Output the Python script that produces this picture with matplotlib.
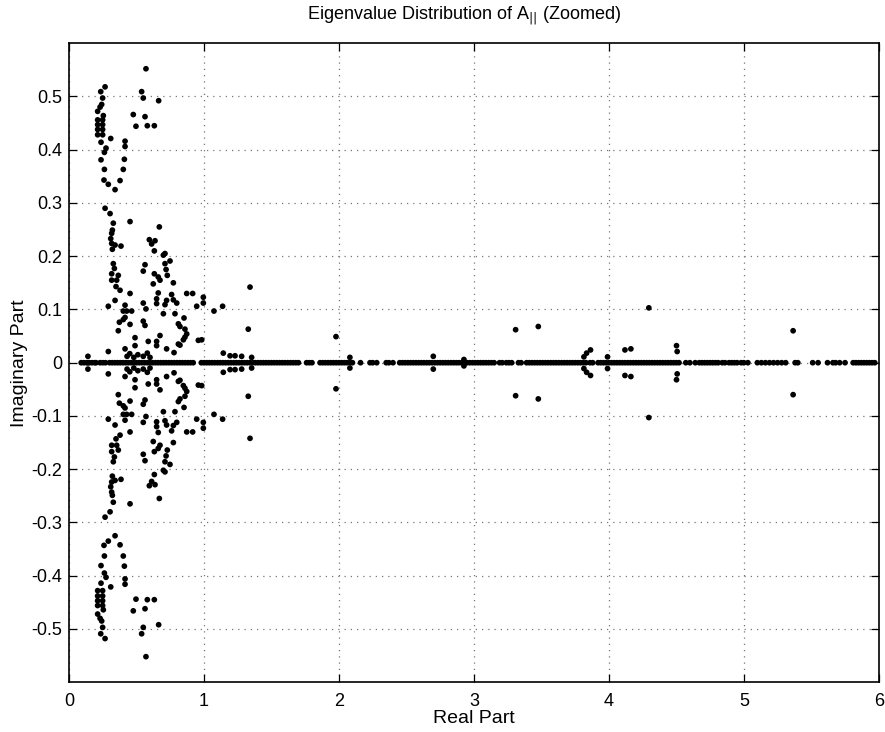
import matplotlib
matplotlib.use("Agg")
import matplotlib.pyplot as plt
import numpy as np

plt.rcParams['font.family'] = ['Liberation Sans', 'DejaVu Sans']

# Complex eigenvalues (upper half-plane); conjugates are mirrored below
cplx_re = [0.267, 0.235, 0.249, 0.538, 0.550, 0.664, 0.242, 0.230, 0.212, 0.254,
           0.476, 0.563, 0.212, 0.249, 0.212, 0.249, 0.496, 0.580, 0.632, 0.212,
           0.249, 0.212, 0.249, 0.237, 0.309, 0.415, 0.415, 0.274, 0.262, 0.237,
           0.410, 0.262, 0.402, 0.259, 0.291, 0.378, 0.341, 0.267, 0.304, 0.328,
           0.452, 0.669, 0.570,
           0.321, 0.316, 0.309, 0.316, 0.341, 0.385, 0.321, 0.595, 0.637, 0.612,
           0.632, 0.711, 0.699, 0.748, 0.711, 0.328, 0.563, 0.336, 0.550, 0.719,
           0.316, 0.365, 0.632, 0.661, 0.728, 0.316, 0.353, 0.624, 0.674, 0.773,
           0.348, 0.378, 0.452, 1.341, 0.661, 0.760, 0.872, 0.916, 0.995, 0.341,
           0.649, 0.723, 0.773, 0.649, 0.711, 0.798, 0.550, 0.291, 0.415, 0.570,
           0.946, 0.995, 1.074, 1.138, 0.402, 0.427, 0.464, 0.699, 0.785, 0.415,
           0.402, 0.852, 0.373, 0.550, 0.452, 0.563, 0.810, 0.822, 0.365, 0.859,
           1.328, 0.872, 0.674, 0.859, 0.847, 0.489, 0.587, 0.649, 0.810, 0.822,
           0.958, 0.983, 0.649, 0.723, 0.778, 0.415, 0.291, 0.489,
           0.140, 0.430, 0.450, 0.480, 0.510, 0.550, 0.580, 0.600,
           1.143, 1.193, 1.230, 1.279, 1.353, 1.978, 2.081, 2.699, 2.926,
           3.309, 3.477, 3.815, 3.835, 3.864, 3.990, 4.119, 4.163, 4.296,
           4.501, 4.506, 5.365]
cplx_im = [0.518, 0.509, 0.497, 0.509, 0.497, 0.492, 0.485, 0.480, 0.472, 0.464,
           0.466, 0.462, 0.456, 0.456, 0.447, 0.447, 0.444, 0.445, 0.445, 0.438,
           0.438, 0.428, 0.428, 0.414, 0.421, 0.416, 0.406, 0.403, 0.395, 0.381,
           0.382, 0.363, 0.363, 0.343, 0.335, 0.342, 0.325, 0.290, 0.280, 0.262,
           0.265, 0.255, 0.552,
           0.249, 0.243, 0.233, 0.224, 0.221, 0.219, 0.213, 0.231, 0.229, 0.223,
           0.210, 0.205, 0.202, 0.191, 0.186, 0.186, 0.184, 0.177, 0.172, 0.175,
           0.167, 0.164, 0.167, 0.161, 0.164, 0.155, 0.155, 0.148, 0.155, 0.150,
           0.143, 0.136, 0.130, 0.142, 0.131, 0.128, 0.130, 0.130, 0.123, 0.117,
           0.120, 0.117, 0.118, 0.111, 0.109, 0.112, 0.112, 0.106, 0.108, 0.101,
           0.106, 0.112, 0.097, 0.106, 0.097, 0.097, 0.097, 0.092, 0.092, 0.085,
           0.081, 0.084, 0.076, 0.078, 0.072, 0.070, 0.073, 0.068, 0.060, 0.063,
           0.063, 0.054, 0.051, 0.048, 0.043, 0.047, 0.040, 0.040, 0.035, 0.033,
           0.042, 0.043, 0.032, 0.026, 0.019, 0.026, 0.021, 0.032,
           0.012, 0.012, 0.017, 0.010, 0.015, 0.012, 0.018, 0.010,
           0.018, 0.013, 0.013, 0.012, 0.010, 0.049, 0.010, 0.012, 0.006,
           0.062, 0.068, 0.011, 0.018, 0.024, 0.011, 0.024, 0.026, 0.103,
           0.032, 0.021, 0.060]

# Real eigenvalues
real_vals = [0.09, 0.11, 0.13, 0.14, 0.15, 0.17, 0.19, 0.20,
             0.23, 0.25, 0.27, 0.30, 0.32, 0.34, 0.36,
             0.38, 0.40, 0.42, 0.44, 0.46, 0.48, 0.50, 0.52, 0.54, 0.56, 0.58,
             0.60, 0.62, 0.64, 0.66, 0.68, 0.70, 0.72, 0.74, 0.76, 0.78, 0.80,
             0.82, 0.84, 0.86, 0.88, 0.90, 0.92,
             0.98, 1.00, 1.02, 1.04, 1.06, 1.08, 1.10, 1.12, 1.14, 1.16, 1.18,
             1.20, 1.22, 1.24, 1.26, 1.28, 1.30, 1.32, 1.34, 1.36, 1.38, 1.40,
             1.42, 1.44, 1.46, 1.48, 1.50, 1.52, 1.54, 1.56, 1.58, 1.60, 1.62,
             1.64, 1.66, 1.68, 1.70,
             1.76, 1.78, 1.80,
             1.86, 1.88, 1.90, 1.92, 1.94, 1.96, 1.98, 2.00, 2.02, 2.04, 2.06,
             2.08, 2.10,
             2.16, 2.23, 2.25, 2.28, 2.35, 2.37, 2.40,
             2.45, 2.47, 2.49, 2.51, 2.53, 2.55, 2.57, 2.59, 2.61, 2.63, 2.65,
             2.67, 2.69, 2.71, 2.73, 2.75, 2.77, 2.79, 2.81, 2.83, 2.85, 2.87,
             2.89, 2.91, 2.93, 2.95, 2.97, 2.99, 3.01, 3.03, 3.05, 3.07, 3.09,
             3.11, 3.13, 3.15,
             3.19, 3.21, 3.24, 3.26, 3.28, 3.33, 3.35, 3.39, 3.41, 3.43,
             3.45, 3.47, 3.49, 3.51, 3.53, 3.55, 3.57, 3.59, 3.61, 3.63, 3.65,
             3.67, 3.69, 3.71, 3.73, 3.75, 3.77, 3.79,
             3.81, 3.83, 3.86, 3.88, 3.92, 3.94, 3.96,
             3.98, 4.00, 4.02, 4.04, 4.06, 4.08, 4.10, 4.12, 4.14, 4.16, 4.18,
             4.20, 4.22, 4.24, 4.26, 4.28, 4.30, 4.32, 4.34, 4.36, 4.38, 4.40,
             4.42, 4.44, 4.46, 4.48, 4.50, 4.52,
             4.57, 4.60, 4.64,
             4.67, 4.69, 4.71, 4.73, 4.75, 4.77, 4.79, 4.81,
             4.84, 4.86, 4.89, 4.91, 4.93, 4.95, 4.98, 5.00, 5.03,
             5.10, 5.13, 5.16, 5.19, 5.22, 5.25, 5.28, 5.31,
             5.38, 5.40, 5.51, 5.55, 5.62, 5.66, 5.68, 5.71, 5.75,
             5.81, 5.83, 5.85, 5.87, 5.89, 5.91, 5.93, 5.95, 5.97]

x_ticks = [0, 1, 2, 3, 4, 5, 6]
y_ticks = [-0.5, -0.4, -0.3, -0.2, -0.1, 0, 0.1, 0.2, 0.3, 0.4, 0.5]
y_tick_labels = ['-0.5', '-0.4', '-0.3', '-0.2', '-0.1', '0', '0.1', '0.2', '0.3', '0.4', '0.5']

fig = plt.figure(figsize=(8.85, 7.32), dpi=100)
ax = fig.add_axes([0.078, 0.068, 0.915, 0.873])

re_all = list(cplx_re) + list(cplx_re) + list(real_vals)
im_all = list(cplx_im) + [-v for v in cplx_im] + [0.0] * len(real_vals)
ax.scatter(re_all, im_all, s=17, c='black', edgecolors='none', zorder=3)

ax.set_xlim(0, 6)
ax.set_ylim(-0.6, 0.6)
ax.set_xticks(x_ticks)
ax.set_xticklabels([str(t) for t in x_ticks])
ax.set_yticks(y_ticks)
ax.set_yticklabels(y_tick_labels)
ax.grid(True, linestyle=(0, (1, 4)), color='#777777', linewidth=0.9)
ax.set_axisbelow(True)
ax.tick_params(direction='in', top=True, right=True, length=6, width=0.9,
               labelsize=13, pad=5)
ax.tick_params(axis='x', pad=8)
for sp in ax.spines.values():
    sp.set_linewidth(1.2)

ax.set_xlabel('Real Part', fontsize=14, labelpad=0)
ax.set_ylabel('Imaginary Part', fontsize=14, labelpad=2)
ax.set_title(r'Eigenvalue Distribution of A$_{||}$ (Zoomed)', fontsize=13, pad=17, x=0.488)

fig.savefig('out.png', dpi=100)
